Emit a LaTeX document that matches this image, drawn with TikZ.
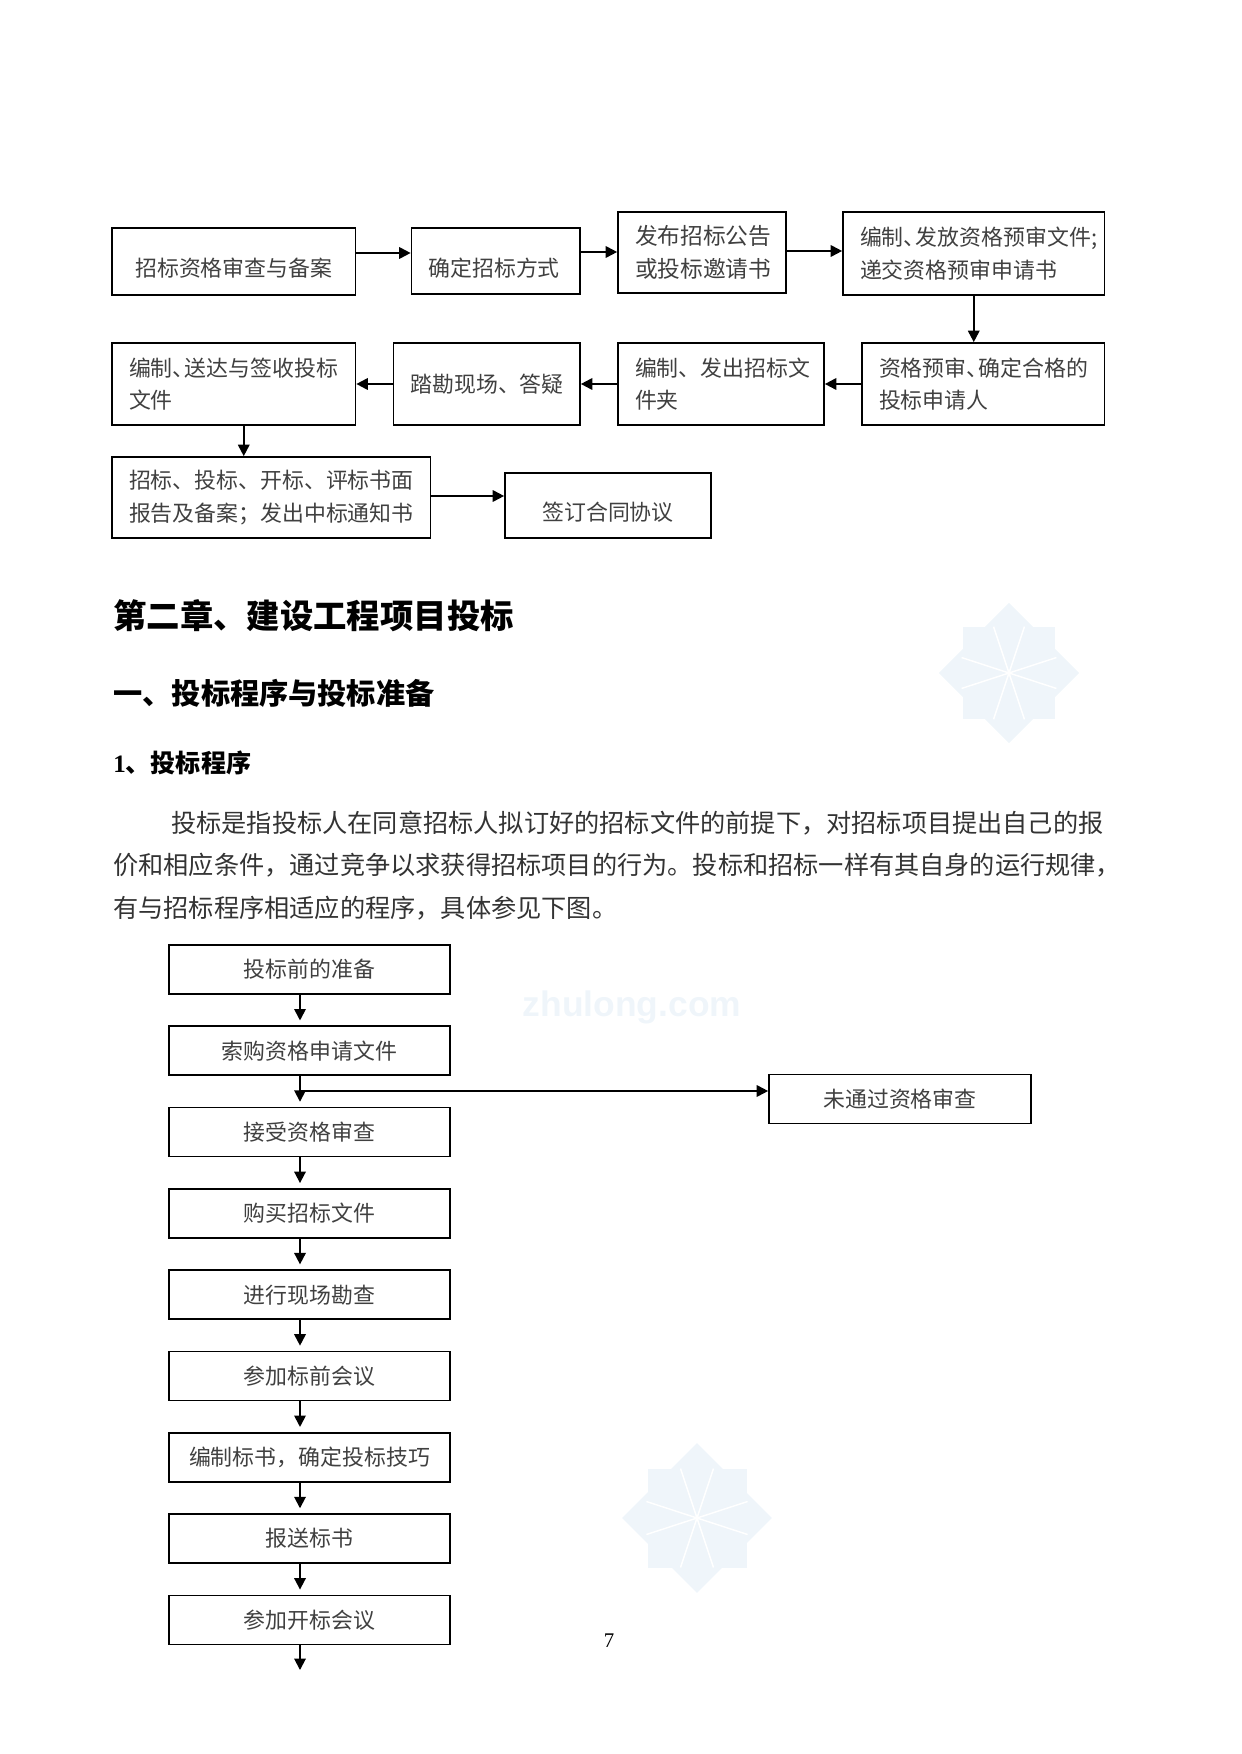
\documentclass[tikz,border=0pt]{standalone}
\usepackage{fontspec}
\setmainfont{Noto Sans CJK SC}
\newfontfamily\latinfont{Liberation Serif}
\newfontfamily\markfont{Liberation Sans}
\usetikzlibrary{arrows.meta}
\newlength{\pxu}
\setlength{\pxu}{0.4795pt}
\definecolor{markblue}{HTML}{EFF5FA}
\tikzset{
    step box/.style 2 args={rectangle, draw=black, line width=0.8pt, text=black!75, font=\fontsize{10.5}{15.6}\selectfont, inner xsep=17\pxu, inner ysep=0pt, minimum width=#1\pxu, minimum height=#2\pxu, text width=#1\pxu-34\pxu},
    bid box/.style={rectangle, draw=black, line width=0.8pt, text=black!75, font=\fontsize{10.5}{14}\selectfont, minimum width=281\pxu, minimum height=49\pxu, inner sep=0pt},
    arrow/.style={line width=0.9pt, -{Triangle[length=5.5pt,width=5.5pt]}},
    bid arrow/.style={arrow, shorten >=5\pxu},
    heading/.style={anchor=west, inner sep=0pt, font=\bfseries\fontsize{#1}{#1}\selectfont}
}
\newcommand{\dun}{、\hspace{-.45em}}
% pale star behind the page
\newcommand{\markstar}[3]{
    \begin{scope}[shift={(#1,#2)}, scale=#3]
        \fill [markblue] (0,-68) -- (68,0) -- (0,68) -- (-68,0) -- cycle;
        \fill [markblue] (-45,-45) rectangle (45,45);
        \draw [white, line width=0.7pt] (-15,-45) -- (15,45) (15,-45) -- (-15,45) (-46,-15) -- (46,15) (-46,15) -- (46,-15);
    \end{scope}
}
\begin{document}
\begin{tikzpicture}[x=\pxu, y=-\pxu, node distance=81.3\pxu]
    \useasboundingbox (0,0) rectangle (1241,1754);

    \markstar{1009}{673}{1.03}
    \markstar{697}{1518}{1.1}
    \node (zhulong) [inner sep=0pt, text=markblue, font=\markfont\bfseries\fontsize{17}{17}\selectfont] at (632,1007) {zhulong.com};

    % first flow, row by row
    \node (review) [step box={243.5}{67}, align=center] at (233.75,261.5) {\\招标资格审查与备案};
    \node (method) [step box={168.5}{66}, align=left] at (495.75,261) {\\确定招标方式};
    \node (notice) [step box={168}{81}, align=left, font=\fontsize{10.9}{15.6}\selectfont] at (702,252.5) {发布招标公告\\或投标邀请书};
    \node (prequal) [step box={261.5}{83}, align=left] at (973.75,253.5) {\mbox{编制\dun 发放资格预审文件;}\\递交资格预审申请书};

    \node (qualified) [step box={242.5}{82}, align=left] at (983.25,384) {\mbox{资格预审\dun 确定合格的}\\投标申请人};
    \node (documents) [step box={206}{82}, align=left] at (721,384) {\mbox{编制、发出招标文}\\件夹};
    \node (survey) [step box={186.5}{82}, align=left] at (486.75,384) {踏勘现场、答疑};
    \node (submit) [step box={243.5}{82}, align=left] at (233.75,384) {\mbox{编制\dun 送达与签收投标}\\文件};

    \node (report) [step box={318.5}{81}, align=left] at (271.25,497.5) {\mbox{招标、投标、开标、评标书面}\\\mbox{报告及备案；发出中标通知书}};
    \node (contract) [step box={206}{65}, align=center] at (608,505.5) {\\签订合同协议};

    \coordinate (rowa) at (0,253);
    \coordinate (rowb) at (0,252);
    \coordinate (rowc) at (0,251);
    \coordinate (rowd) at (0,496);

    \draw [arrow] (review.east |- rowa) -- (method.west |- rowa);
    \draw [arrow] (method.east |- rowb) -- (notice.west |- rowb);
    \draw [arrow] (notice.east |- rowc) -- (prequal.west |- rowc);
    \draw [arrow] (prequal.south) -- (prequal.south |- qualified.north);
    \draw [arrow] (qualified.west) -- (documents.east);
    \draw [arrow] (documents.west) -- (survey.east);
    \draw [arrow] (survey.west) -- (submit.east);
    \draw [arrow] ([xshift=10\pxu]submit.south) -- ([xshift=10\pxu]submit.south |- report.north);
    \draw [arrow] (report.east |- rowd) -- (contract.west |- rowd);

    % chapter text
    \node (chapter) [heading=16] at (113,616) {第二章、建设工程项目投标};
    \node (section) [heading=14] at (113,693) {一、投标程序与投标准备};
    \node (subsection) [heading=12] at (113,763) {{\latinfont 1}、投标程序};
    \node (para) [anchor=north west, inner sep=0pt, text width=1020\pxu, text=black!80, font=\fontsize{12.08}{20.2}\selectfont, align=left] at (113,811) {\hspace*{58\pxu}投标是指投标人在同意招标人拟订好的招标文件的前提下，对招标项目提出自己的报\\价和相应条件，通过竞争以求获得招标项目的行为。投标和招标一样有其自身的运行规律，\\有与招标程序相适应的程序，具体参见下图。};

    % second flow
    \node (prepare) [bid box] at (309.5,969.5) {投标前的准备};
    \node (buyapp) [bid box, below of=prepare] {索购资格申请文件};
    \node (accept) [bid box, below of=buyapp] {接受资格审查};
    \node (buydoc) [bid box, below of=accept] {购买招标文件};
    \node (site) [bid box, below of=buydoc] {进行现场勘查};
    \node (premeet) [bid box, below of=site] {参加标前会议};
    \node (write) [bid box, below of=premeet] {编制标书，确定投标技巧};
    \node (send) [bid box, below of=write] {报送标书};
    \node (opening) [bid box, below of=send] {参加开标会议};
    \node (failed) [bid box, minimum width=262\pxu] at (900,1099) {未通过资格审查};

    \coordinate (fork) at (300,1091);
    \coordinate (nextpage) at (300,1670);

    \draw [bid arrow] ([xshift=-9.5\pxu]prepare.south) -- ([xshift=-9.5\pxu]buyapp.north);
    \draw [bid arrow] ([xshift=-9.5\pxu]buyapp.south) -- ([xshift=-9.5\pxu]accept.north);
    \draw [arrow] (fork) -- (failed.west |- fork);
    \draw [bid arrow] ([xshift=-9.5\pxu]accept.south) -- ([xshift=-9.5\pxu]buydoc.north);
    \draw [bid arrow] ([xshift=-9.5\pxu]buydoc.south) -- ([xshift=-9.5\pxu]site.north);
    \draw [bid arrow] ([xshift=-9.5\pxu]site.south) -- ([xshift=-9.5\pxu]premeet.north);
    \draw [bid arrow] ([xshift=-9.5\pxu]premeet.south) -- ([xshift=-9.5\pxu]write.north);
    \draw [bid arrow] ([xshift=-9.5\pxu]write.south) -- ([xshift=-9.5\pxu]send.north);
    \draw [bid arrow] ([xshift=-9.5\pxu]send.south) -- ([xshift=-9.5\pxu]opening.north);
    \draw [arrow] ([xshift=-9.5\pxu]opening.south) -- (nextpage);

    \node (pageno) [inner sep=0pt, font=\latinfont\fontsize{10}{10}\selectfont] at (609,1641) {7};
\end{tikzpicture}
\end{document}
